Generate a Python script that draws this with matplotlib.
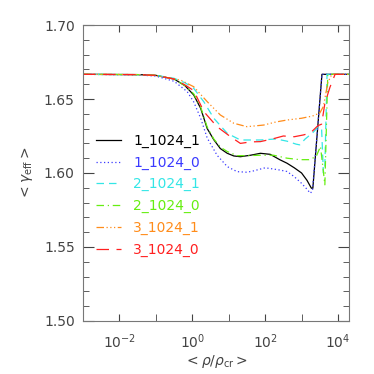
import numpy as np
import matplotlib
matplotlib.use("Agg")
from matplotlib import pyplot as plt
from matplotlib.ticker import FixedLocator, MultipleLocator, NullFormatter, FormatStrFormatter

# log10(rho/rho_cr) and <gamma_eff>
x_1_1024_1 = [-3, -1.5, -1.0, -0.5, -0.2, 0.04, 0.23, 0.41, 0.59, 0.77, 0.96, 1.14, 1.32, 1.6, 1.87, 2.14, 2.4, 2.6, 2.8, 3.0, 3.15, 3.27, 3.31, 3.56, 4.3]
y_1_1024_1 = [1.6667, 1.6665, 1.666, 1.6635, 1.659, 1.6527, 1.6437, 1.630, 1.6225, 1.6165, 1.6133, 1.6115, 1.611, 1.612, 1.6133, 1.6126, 1.609, 1.6066, 1.6035, 1.600, 1.595, 1.5897, 1.5897, 1.6667, 1.6667]

x_1_1024_0 = [-3, -1.5, -1.0, -0.5, -0.14, 0.04, 0.23, 0.41, 0.68, 0.96, 1.23, 1.5, 1.68, 2.0, 2.14, 2.4, 2.6, 2.8, 3.0, 3.15, 3.24, 3.3, 3.56, 4.3]
y_1_1024_0 = [1.6667, 1.6663, 1.6655, 1.662, 1.655, 1.648, 1.637, 1.6236, 1.612, 1.6043, 1.6009, 1.6005, 1.6014, 1.6035, 1.603, 1.602, 1.601, 1.5975, 1.593, 1.589, 1.5863, 1.588, 1.6667, 1.6667]

x_2_1024_1 = [-3, -1.5, -1, -0.5, -0.2, 0.04, 0.32, 0.59, 0.96, 1.32, 1.87, 2.3, 2.6, 2.85, 2.95, 3.1, 3.3, 3.45, 3.55, 3.6, 3.64, 3.7, 4.3]
y_2_1024_1 = [1.6667, 1.6665, 1.666, 1.664, 1.661, 1.6572, 1.648, 1.637, 1.6268, 1.6223, 1.6223, 1.623, 1.6215, 1.6195, 1.619, 1.623, 1.627, 1.631, 1.630, 1.600, 1.605, 1.6667, 1.6667]

x_2_1024_0 = [-3, -1.5, -1, -0.5, -0.2, 0.04, 0.23, 0.41, 0.59, 0.77, 0.96, 1.23, 1.5, 1.87, 2.23, 2.6, 2.95, 3.2, 3.4, 3.52, 3.58, 3.64, 3.72, 4.3]
y_2_1024_0 = [1.6667, 1.6665, 1.666, 1.6635, 1.659, 1.6535, 1.6445, 1.631, 1.623, 1.6175, 1.6145, 1.6117, 1.6117, 1.612, 1.612, 1.610, 1.609, 1.609, 1.611, 1.618, 1.605, 1.592, 1.6667, 1.6667]

x_3_1024_1 = [-3, -1.5, -1, -0.32, 0.04, 0.41, 0.77, 1.14, 1.5, 1.96, 2.3, 2.6, 3.0, 3.3, 3.5, 3.6, 3.72, 3.83, 4.3]
y_3_1024_1 = [1.6667, 1.6665, 1.6658, 1.6628, 1.6583, 1.6482, 1.6392, 1.6336, 1.6313, 1.6324, 1.6345, 1.6358, 1.637, 1.6385, 1.6405, 1.645, 1.661, 1.6667, 1.6667]

x_3_1024_0 = [-3, -1.5, -1, -0.5, -0.2, 0.04, 0.32, 0.68, 1.05, 1.32, 1.6, 1.87, 2.2, 2.5, 2.8, 3.05, 3.24, 3.45, 3.55, 3.64, 3.78, 3.92, 4.3]
y_3_1024_0 = [1.6667, 1.6665, 1.666, 1.6635, 1.6595, 1.6557, 1.6414, 1.6313, 1.6245, 1.620, 1.621, 1.6212, 1.623, 1.625, 1.6245, 1.6257, 1.627, 1.632, 1.633, 1.647, 1.658, 1.6667, 1.6667]

labels = ['1_1024_1', '1_1024_0', '2_1024_1', '2_1024_0', '3_1024_1', '3_1024_0']
colors = ['black', '#3a3aff', '#33e6e6', '#66ee11', '#ff8c1a', '#ff2020']
styles = ['-', (0, (1, 2)), (0, (6, 4)), (0, (6, 3, 1, 3)),
          (0, (6, 2, 1, 2, 1, 2, 1, 2)), (0, (10, 6))]
xs = [x_1_1024_1, x_1_1024_0, x_2_1024_1, x_2_1024_0, x_3_1024_1, x_3_1024_0]
ys = [y_1_1024_1, y_1_1024_0, y_2_1024_1, y_2_1024_0, y_3_1024_1, y_3_1024_0]

grey = '#444444'
plt.rcParams['font.family'] = ['DejaVu Sans']

fig = plt.figure(figsize=(3.74, 3.74), dpi=100)
ax = fig.add_axes([0.222, 0.142, 0.711, 0.791])

for x, y, lab, c, ls in zip(xs, ys, labels, colors, styles):
    ax.plot(10 ** np.array(x), y, color=c, ls=ls, lw=0.9, label=lab)

ax.set_xscale('log')
ax.set_xlim(1e-3, 2e4)
ax.set_ylim(1.50, 1.70)

ax.xaxis.set_major_locator(FixedLocator([1e-2, 1e0, 1e2, 1e4]))
ax.xaxis.set_minor_locator(FixedLocator([1e-3, 1e-1, 1e1, 1e3]))
ax.xaxis.set_minor_formatter(NullFormatter())
ax.yaxis.set_major_locator(MultipleLocator(0.05))
ax.yaxis.set_minor_locator(MultipleLocator(0.01))
ax.yaxis.set_major_formatter(FormatStrFormatter('%.2f'))

ax.tick_params(which='both', direction='in', top=True, right=True,
               color=grey, labelcolor=grey, labelsize=10)
ax.tick_params(axis='x', which='both', length=5, pad=8)
ax.tick_params(axis='y', which='major', length=8, pad=6)
ax.tick_params(axis='y', which='minor', length=4)
for s in ax.spines.values():
    s.set_color('#777777')
    s.set_linewidth(0.8)

ax.set_xlabel(r'$<\rho/\rho_{\rm cr}>$', color=grey, fontsize=10, labelpad=2)
ax.set_ylabel(r'$<\gamma_{\rm eff}>$', color=grey, fontsize=10, labelpad=6)

ax.legend(loc='upper left', bbox_to_anchor=(0.0, 0.675), frameon=False,
          fontsize=10, labelcolor='linecolor', handlelength=1.8,
          handletextpad=0.9, labelspacing=0.55)

fig.savefig('out.png', dpi=100)
